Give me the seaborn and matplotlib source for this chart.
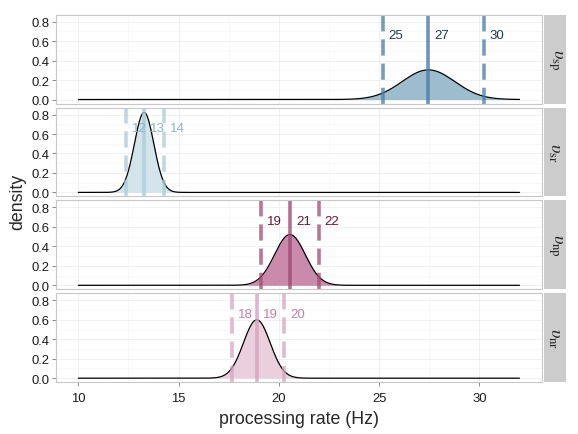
import numpy as np
import pandas as pd
import seaborn as sns
from matplotlib import pyplot as plt

# rate parameters, one panel each
params = ['sp', 'sr', 'np', 'nr']
means = [27.46, 13.28, 20.55, 18.90]
sds = [1.31, 0.485, 0.765, 0.665]
lower = [25.17, 12.36, 19.09, 17.67]
upper = [30.22, 14.27, 21.98, 20.27]

fill_colors = ['#9dbdcf', '#d3e5eb', '#c98aab', '#ead0dc']
line_colors = ['#4a7ca4', '#aacbd8', '#a24a73', '#d6a3bd']
text_colors = ['#1e3658', '#8db5c7', '#6a1631', '#c281a4']

x = np.linspace(10, 32, 500)
df = pd.concat([
    pd.DataFrame({'param': p, 'rate': x,
                  'density': np.exp(-0.5 * ((x - m) / s) ** 2) / (s * np.sqrt(2 * np.pi))})
    for p, m, s in zip(params, means, sds)
])

sns.set_style('white')
plt.rcParams['font.family'] = ['Liberation Sans', 'DejaVu Sans']
plt.rcParams['mathtext.fontset'] = 'stix'

fig, axes = plt.subplots(4, 1, figsize=(5.78, 4.35), dpi=100, sharex=True)
fig.subplots_adjust(left=0.0974, right=0.937, top=0.964, bottom=0.119, hspace=0.045)

for i, (ax, p) in enumerate(zip(axes, params)):
    sub = df[df['param'] == p]
    ax.fill_between(sub['rate'], sub['density'], color=fill_colors[i], lw=0)
    sns.lineplot(data=sub, x='rate', y='density', ax=ax, color='black', lw=0.9)
    ax.axvline(means[i], color=line_colors[i], lw=2.6, alpha=0.8)
    for v in (lower[i], upper[i]):
        ax.axvline(v, color=line_colors[i], lw=2.6, alpha=0.75, dashes=(4.5, 2.2))
    for v in (lower[i], means[i], upper[i]):
        ax.text(v + 0.3, 0.66, f'{v:.0f}', color=text_colors[i], fontsize=9.5,
                ha='left', va='center')

    ax.set_xlim(8.9, 33.1)
    ax.set_ylim(-0.0415, 0.872)
    ax.set_yticks([0, 0.2, 0.4, 0.6, 0.8])
    ax.set_yticklabels(['0.0', '0.2', '0.4', '0.6', '0.8'])
    ax.set_xticks([10, 15, 20, 25, 30])
    ax.set_xticks([12.5, 17.5, 22.5, 27.5], minor=True)
    ax.set_yticks([0.1, 0.3, 0.5, 0.7], minor=True)
    ax.grid(True, which='major', color='#ebebeb', lw=0.5)
    ax.grid(True, which='minor', color='#f7f7f7', lw=0.5)
    ax.set_axisbelow(True)
    for sp in ax.spines.values():
        sp.set_color('#c8c8c8')
        sp.set_linewidth(0.8)
    ax.tick_params(axis='y', which='major', length=3, width=0.6, color='#777777',
                   labelsize=9.4, labelcolor='#1a1a1a', left=True, pad=2)
    ax.tick_params(axis='x', which='major', length=3, width=0.6, color='#777777',
                   labelsize=9.4, labelcolor='#1a1a1a', bottom=(i == 3), pad=4)
    ax.tick_params(which='minor', length=0)
    ax.set_xlabel('')
    ax.set_ylabel('')

    strip = ax.inset_axes([1.004, 0, 0.046, 1])
    strip.set_facecolor('#cccccc')
    strip.set_xticks([])
    strip.set_yticks([])
    for sp in strip.spines.values():
        sp.set_visible(False)
    strip.text(0.5, 0.5, r'$\upsilon_{\mathrm{%s}}$' % p, rotation=-90,
               ha='center', va='center', fontsize=13, transform=strip.transAxes)

axes[-1].set_xlabel('processing rate (Hz)', fontsize=12.8, labelpad=4)
fig.text(0.03, 0.536, 'density', rotation=90, fontsize=12.8, ha='center', va='center')

fig.savefig('out.png', dpi=100)
